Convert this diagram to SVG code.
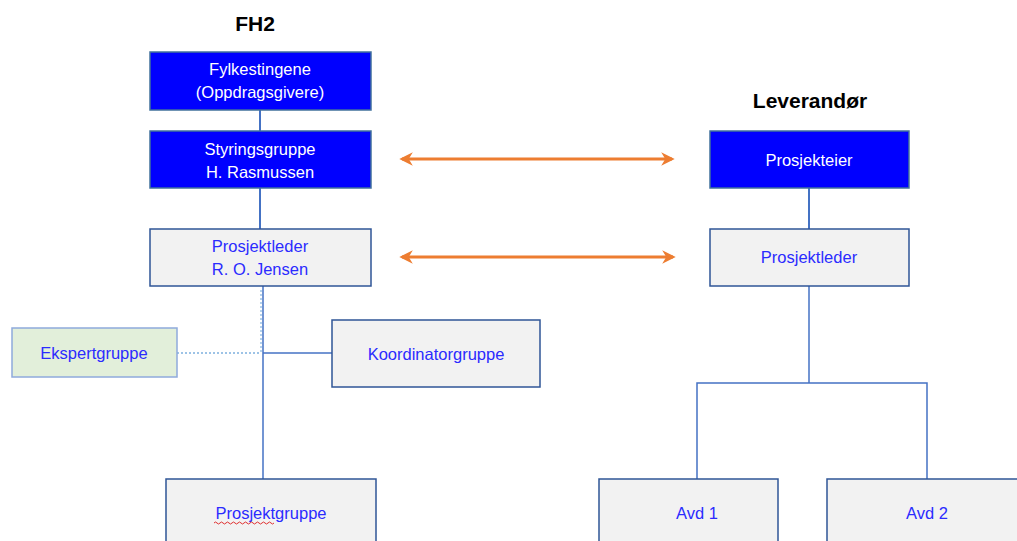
<svg xmlns="http://www.w3.org/2000/svg" width="1017" height="541" viewBox="0 0 1017 541">
<style>
.t{font-family:"Liberation Sans",Arial,sans-serif;font-size:16.5px;text-anchor:middle}
.h{font-family:"Liberation Sans",Arial,sans-serif;font-size:21px;font-weight:bold;text-anchor:middle;fill:#000}
.dk{fill:#0000FF;stroke:#41719C;stroke-width:1.5}
.lt{fill:#F2F2F2;stroke:#2F5597;stroke-width:1.5}
.gr{fill:#E2EFDA;stroke:#8FAADC;stroke-width:1.5}
.w{fill:#FFFFFF}
.b{fill:#2B2BFF}
.c{stroke:#4472C4;fill:none}
.arr{stroke:#ED7D31;stroke-width:3;fill:none;marker-start:url(#ah);marker-end:url(#ah)}
</style>
<defs>
<marker id="ah" viewBox="0 0 10 10" refX="8" refY="5" markerWidth="4.5" markerHeight="4.5" orient="auto-start-reverse" markerUnits="strokeWidth">
<path d="M0,0 L10,5 L0,10 L3,5 Z" fill="#ED7D31"/>
</marker>
</defs>
<rect width="1017" height="541" fill="#FFFFFF"/>
<text class="h" x="255" y="31">FH2</text>
<text class="h" x="810" y="108">Leverandør</text>
<g id="connectors">
<line class="c" x1="260" y1="110" x2="260" y2="131" stroke-width="2"/>
<line class="c" x1="260" y1="188" x2="260" y2="229" stroke-width="2"/>
<line class="c" x1="263" y1="286" x2="263" y2="479" stroke-width="1.5"/>
<line x1="261" y1="290" x2="261" y2="353" stroke="#9DC3E6" stroke-width="1.5" stroke-dasharray="2,2"/>
<line x1="177" y1="353" x2="261" y2="353" stroke="#9DC3E6" stroke-width="2" stroke-dasharray="2,2"/>
<line class="c" x1="263" y1="353" x2="332" y2="353" stroke-width="1.5"/>
<line class="c" x1="809" y1="188" x2="809" y2="229" stroke-width="2"/>
<line class="c" x1="809" y1="286" x2="809" y2="383" stroke-width="1.5"/>
<polyline class="c" points="697,479 697,383 927,383 927,479" stroke-width="1.5"/>
<line class="arr" x1="402" y1="159" x2="672" y2="159"/>
<line class="arr" x1="402" y1="257" x2="673" y2="257"/>
</g>
<g id="fylkestingene">
<rect class="dk" x="150" y="52" width="221" height="58"/>
<text class="t w" x="260" y="75">Fylkestingene</text>
<text class="t w" x="260" y="98">(Oppdragsgivere)</text>
</g>
<g id="styringsgruppe">
<rect class="dk" x="150" y="131" width="221" height="57"/>
<text class="t w" x="260" y="155">Styringsgruppe</text>
<text class="t w" x="260" y="178">H. Rasmussen</text>
</g>
<g id="prosjektleder-fh2">
<rect class="lt" x="150" y="229" width="221" height="57"/>
<text class="t b" x="260" y="252">Prosjektleder</text>
<text class="t b" x="260" y="275">R. O. Jensen</text>
</g>
<g id="ekspertgruppe">
<rect class="gr" x="12" y="328" width="165" height="49"/>
<text class="t b" x="94" y="359">Ekspertgruppe</text>
</g>
<g id="koordinatorgruppe">
<rect class="lt" x="332" y="320" width="208" height="67"/>
<text class="t b" x="436" y="360">Koordinatorgruppe</text>
</g>
<g id="prosjektgruppe">
<rect class="lt" x="166" y="479" width="210" height="70"/>
<text class="t b" x="271" y="519">Prosjektgruppe</text>
<path d="M214,523 q1.5,-2 3,0 t3,0 t3,0 t3,0 t3,0 t3,0 t3,0 t3,0 t3,0 t3,0 t3,0 t3,0 t3,0 t3,0 t3,0 t3,0 t3,0 t3,0 t3,0 t3,0" fill="none" stroke="#E03030" stroke-width="1"/>
</g>
<g id="prosjekteier">
<rect class="dk" x="710" y="131" width="199" height="57"/>
<text class="t w" x="809" y="166">Prosjekteier</text>
</g>
<g id="prosjektleder-lev">
<rect class="lt" x="710" y="229" width="199" height="57"/>
<text class="t b" x="809" y="263">Prosjektleder</text>
</g>
<g id="avd1">
<rect class="lt" x="599" y="479" width="179" height="70"/>
<text class="t b" x="697" y="519">Avd 1</text>
</g>
<g id="avd2">
<rect class="lt" x="827" y="479" width="200" height="70"/>
<text class="t b" x="927" y="519">Avd 2</text>
</g>
</svg>
